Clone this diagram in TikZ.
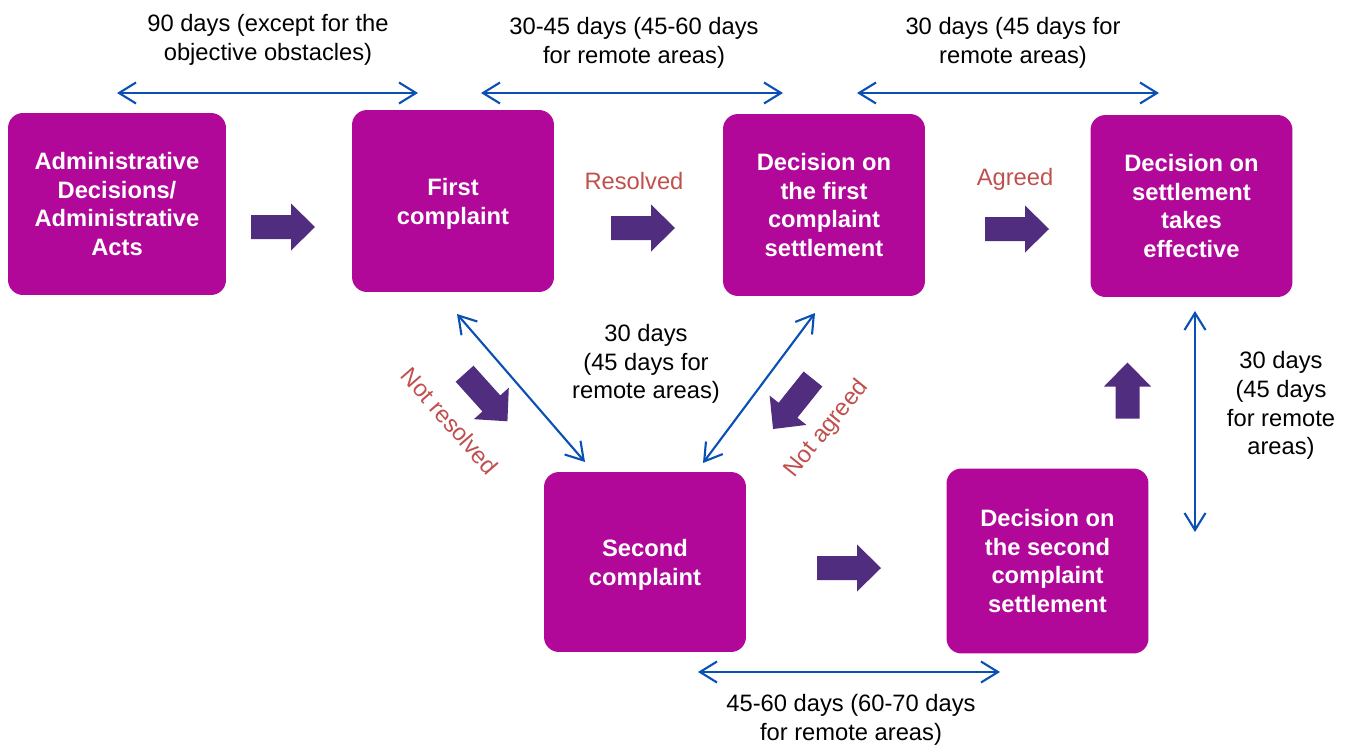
\documentclass[tikz,border=0pt]{standalone}
\usepackage{fontspec}
\setmainfont{Liberation Sans}
\usetikzlibrary{arrows.meta}

\definecolor{boxmagenta}{RGB}{177,8,154}
\definecolor{arrowpurple}{RGB}{80,45,127}
\definecolor{spanblue}{RGB}{10,80,180}
\definecolor{labelred}{RGB}{192,80,77}

\tikzset{
  pics/fatarrow/.style={code={
    \fill[arrowpurple] (-#1,-12) -- (#1-24,-12) -- (#1-24,-23.5) -- (#1,0)
      -- (#1-24,23.5) -- (#1-24,12) -- (-#1,12) -- cycle;
  }}
}

\begin{document}
\begin{tikzpicture}[x=0.02cm,y=-0.02cm]
  \tikzstyle{every node}=[font=\fontsize{13.5}{16.4}\selectfont, align=center, inner sep=0pt]
  \tikzstyle{procbox}=[fill=boxmagenta, rounded corners=0.3cm, text=white,
    font=\bfseries\fontsize{13.5}{16.4}\selectfont, minimum width=4.04cm, minimum height=3.64cm]
  \tikzstyle{span}=[spanblue, line width=1.2pt, >={Straight Barb[length=3.4mm,width=4.2mm]}, <->]
  \tikzstyle{note}=[labelred]

  \useasboundingbox (0,0) rectangle (1349,744);

  % process boxes
  \node[procbox, minimum width=4.36cm] (admin) at (117,204) {Administrative\\Decisions/\\Administrative\\Acts};
  \node[procbox, minimum height=3.64cm, text depth=0pt] (first) at (453,201) {First\\complaint};
  \node[procbox] (dec1) at (824,205) {Decision on\\the first\\complaint\\settlement};
  \node[procbox] (eff) at (1191.5,206) {Decision on\\settlement\\takes\\effective};
  \node[procbox, minimum height=3.6cm, text depth=0pt] (second) at (645,562) {Second\\complaint};
  \node[procbox, minimum height=3.7cm] (dec2) at (1047.5,561) {Decision on\\the second\\complaint\\settlement};

  % flow arrows
  \pic at (283,227) {fatarrow=32};
  \pic at (643,228) {fatarrow=32};
  \pic at (1017,229) {fatarrow=32};
  \pic at (849,568) {fatarrow=32};
  \pic[rotate=90] at (1127.5,390.5) {fatarrow=28};
  \pic[rotate=-48] at (486,397.5) {fatarrow=32};
  \pic[rotate=-128.6] at (793,404) {fatarrow=32};

  % outcome labels
  \node[note] (resolved) at (634,181) {Resolved};
  \node[note] (agreed) at (1015,179) {Agreed};
  \node[note, rotate=-49] (notres) at (450,421) {Not resolved};
  \node[note, rotate=51] (notagr) at (827,429) {Not agreed};

  % time spans
  \coordinate (s1a) at (117,93);  \coordinate (s1b) at (418,93);
  \coordinate (s2a) at (481,93);  \coordinate (s2b) at (783,93);
  \coordinate (s3a) at (857,93);  \coordinate (s3b) at (1159,93);
  \coordinate (s4a) at (457,314); \coordinate (s4b) at (585,462);
  \coordinate (s5a) at (815,313); \coordinate (s5b) at (703,463);
  \coordinate (s6a) at (1195,311); \coordinate (s6b) at (1195,532);
  \coordinate (s7a) at (698,672); \coordinate (s7b) at (1000,672);
  \draw[span] (s1a) -- (s1b);
  \draw[span] (s2a) -- (s2b);
  \draw[span] (s3a) -- (s3b);
  \draw[span] (s4a) -- (s4b);
  \draw[span] (s5a) -- (s5b);
  \draw[span] (s6a) -- (s6b);
  \draw[span] (s7a) -- (s7b);

  \node (t1) at (268,40) {90 days (except for the\\objective obstacles)};
  \node (t2) at (634,43) {30-45 days (45-60 days\\for remote areas)};
  \node (t3) at (1013,43) {30 days (45 days for\\remote areas)};
  \node (t4) at (646,364) {30 days\\(45 days for\\remote areas)};
  \node (t5) at (1281,405.5) {30 days\\(45 days\\for remote\\areas)};
  \node (t6) at (851,720) {45-60 days (60-70 days\\for remote areas)};
\end{tikzpicture}
\end{document}
